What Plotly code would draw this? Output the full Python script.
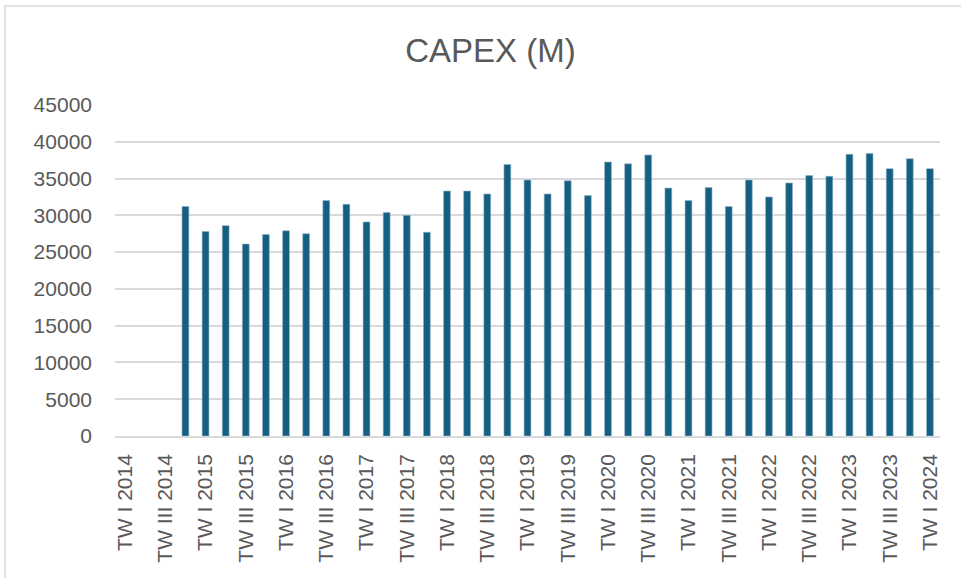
import plotly.graph_objects as go

years = list(range(2014, 2025))
quarters = ["I", "II", "III", "IV"]
categories = [f"TW {q} {y}" for y in years for q in quarters][:41]  # TW I 2014 .. TW I 2024

capex_values = [None, None, None,
                31200,
                27800, 28600, 26100, 27400,
                27900, 27500, 32000, 31500,
                29100, 30400, 30000, 27700,
                33300, 33300, 32900, 36900,
                34800, 32900, 34700, 32700,
                37250, 37000, 38200, 33700,
                32000, 33800, 31200, 34800,
                32500, 34400, 35400, 35300,
                38300, 38400, 36350, 37700,
                36350]

tick_labels = categories[::2]
y_ticks = list(range(0, 45001, 5000))

W, H = 961, 578
L, R, T, B = 115, 21, 105, 142
pw = W - L - R
ph = H - T - B

font_main = "Liberation Sans, Arial, sans-serif"

fig = go.Figure(go.Bar(
    x=categories, y=capex_values,
    marker=dict(color="#156082", line=dict(color="#8fb3c6", width=0.6)),
))

fig.update_layout(
    width=W, height=H,
    margin=dict(l=L, r=R, t=T, b=B, autoexpand=False),
    paper_bgcolor="white", plot_bgcolor="white",
    bargap=0.66,
    showlegend=False,
    title=dict(text="CAPEX (M)", xref="container", x=490.5 / W, xanchor="center",
               y=1 - 50 / H, yanchor="middle",
               font=dict(family=font_main, size=33, color="#595959")),
    xaxis=dict(
        type="category", categoryorder="array", categoryarray=categories,
        tickmode="array", tickvals=tick_labels, ticktext=tick_labels,
        tickangle=-90, tickfont=dict(family=font_main, size=21, color="#595959"),
        showgrid=False, showline=True, linecolor="#d9d9d9", linewidth=1.5,
        ticks="", ticklen=0, ticklabelstandoff=8, automargin=False,
    ),
    yaxis=dict(
        range=[0, 45000], tickvals=y_ticks, ticktext=[str(v) for v in y_ticks],
        tickfont=dict(family=font_main, size=21, color="#595959"),
        showgrid=True, gridcolor="#d9d9d9", gridwidth=1.5,
        zeroline=False, showline=False, ticks="", ticklabelstandoff=22, automargin=False,
    ),
    shapes=[dict(type="rect", xref="paper", yref="paper",
                 x0=(5 - L) / pw, x1=(W + 5 - L) / pw,
                 y0=-(H + 5 - T - ph) / ph, y1=(H - 6 - B) / ph,
                 line=dict(color="#d9d9d9", width=1.5), layer="below")],
)

fig.write_html("out.html", config={"displayModeBar": False},
               post_script="document.body.style.margin='0';document.body.style.overflow='hidden';")
